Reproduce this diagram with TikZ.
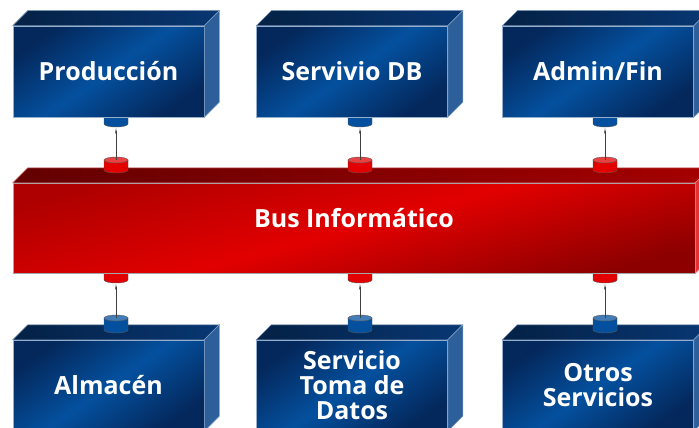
\documentclass[tikz,border=0pt]{standalone}
\usepackage{fontspec}
\setmainfont{Open Sans}
\usetikzlibrary{arrows.meta}
\definecolor{azuloscuro}{RGB}{4,40,92}
\definecolor{azulmedio}{RGB}{4,80,158}
\definecolor{azultapa}{RGB}{8,55,115}
\definecolor{azullado}{RGB}{45,95,155}
\definecolor{rojooscuro}{RGB}{175,0,0}
\definecolor{rojovivo}{RGB}{226,0,0}
\definecolor{rojotapa}{RGB}{165,0,0}
\definecolor{rojolado}{RGB}{228,50,50}
\tikzstyle{modulo}=[draw=azullado!50!white, line width=0.5pt, minimum width=191pt, minimum height=91pt,
    inner sep=0pt, align=center, text=white, font=\fontsize{25}{25}\selectfont\bfseries,
    top color=azuloscuro, bottom color=azuloscuro, middle color=azulmedio, shading angle=35]
\tikzstyle{bus}=[modulo, minimum width=682pt, minimum height=90pt, draw=gray!70,
    top color=rojooscuro, bottom color=rojooscuro!80!black, middle color=rojovivo, shading angle=15,
    text height=12pt, text depth=13pt]
\tikzstyle{flecha}=[line width=0.8pt, black!75, -{Stealth[length=6pt,width=2pt]}]
\tikzstyle{cil}=[line width=0.4pt, draw=black!65]
% tapa y lado de un modulo
\newcommand{\caras}[3]{%
  \filldraw[draw=#3!60!white, line width=0.5pt, left color=#2!60!black, right color=#2]
    (#1.north west) -- ++(15,-15) -- ([shift={(15,-15)}]#1.north east) -- (#1.north east) -- cycle;
  \filldraw[draw=#3!60!white, line width=0.5pt, fill=#3]
    (#1.north east) -- ++(15,-15) -- ([shift={(15,-15)}]#1.south east) -- (#1.south east) -- cycle;}
% conector cilindrico
\newcommand{\cilindro}[5]{%
  \coordinate (#1-arriba) at (#2,#3);
  \coordinate (#1-abajo) at (#2,#4);
  \filldraw[cil, fill=#5] ([xshift=-12pt]#1-arriba) -- ([xshift=-12pt]#1-abajo)
    arc[start angle=180, end angle=360, x radius=12pt, y radius=3pt] -- ([xshift=12pt]#1-arriba) -- cycle;
  \filldraw[cil, fill=#5!75!white] (#1-arriba) ellipse[x radius=12pt, y radius=3pt];}

\begin{document}
\begin{tikzpicture}[x=1pt,y=-1pt]
    \useasboundingbox (0,0) rectangle (699,428);
    \clip (0,0) rectangle (699,428);

    % cilindros bajo los modulos
    \cilindro{ca1}{116}{112}{124}{azulmedio}
    \cilindro{ca2}{360}{112}{124}{azulmedio}
    \cilindro{ca3}{605}{112}{124}{azulmedio}
    \cilindro{cr1}{116}{268}{280}{rojovivo}
    \cilindro{cr2}{360}{268}{280}{rojovivo}
    \cilindro{cr3}{605}{268}{280}{rojovivo}

    \node[modulo] (prod) at (108.5,71.5) {Producción};
    \caras{prod}{azultapa}{azullado}
    \node[modulo] (sdb) at (352,71.5) {Servivio DB};
    \caras{sdb}{azultapa}{azullado}
    \node[modulo] (adm) at (598,71.5) {Admin/Fin};
    \caras{adm}{azultapa}{azullado}

    \node[bus] (bus) at (354,228) {Bus Informático};
    \caras{bus}{rojotapa}{rojolado}

    \node[modulo] (alm) at (108.5,385.5) {Almacén};
    \caras{alm}{azultapa}{azullado}
    \node[modulo] (toma) at (352,385.5) {Servicio\\Toma de\\Datos};
    \caras{toma}{azultapa}{azullado}
    \node[modulo] (otros) at (598,385.5) {Otros\\Servicios};
    \caras{otros}{azultapa}{azullado}

    % cilindros apoyados
    \cilindro{cb1}{116}{160}{170}{rojovivo}
    \cilindro{cb2}{360}{160}{170}{rojovivo}
    \cilindro{cb3}{605}{160}{170}{rojovivo}
    \cilindro{cd1}{116}{318}{330}{azulmedio}
    \cilindro{cd2}{360}{318}{330}{azulmedio}
    \cilindro{cd3}{605}{318}{330}{azulmedio}

    \draw[flecha, shorten >=4pt] (cb1-arriba) -- (ca1-abajo);
    \draw[flecha, shorten >=4pt] (cb2-arriba) -- (ca2-abajo);
    \draw[flecha, shorten >=4pt] (cb3-arriba) -- (ca3-abajo);
    \draw[flecha, shorten >=4pt] (cd1-arriba) -- (cr1-abajo);
    \draw[flecha, shorten >=4pt] (cd2-arriba) -- (cr2-abajo);
    \draw[flecha, shorten >=4pt] (cd3-arriba) -- (cr3-abajo);
\end{tikzpicture}
\end{document}
